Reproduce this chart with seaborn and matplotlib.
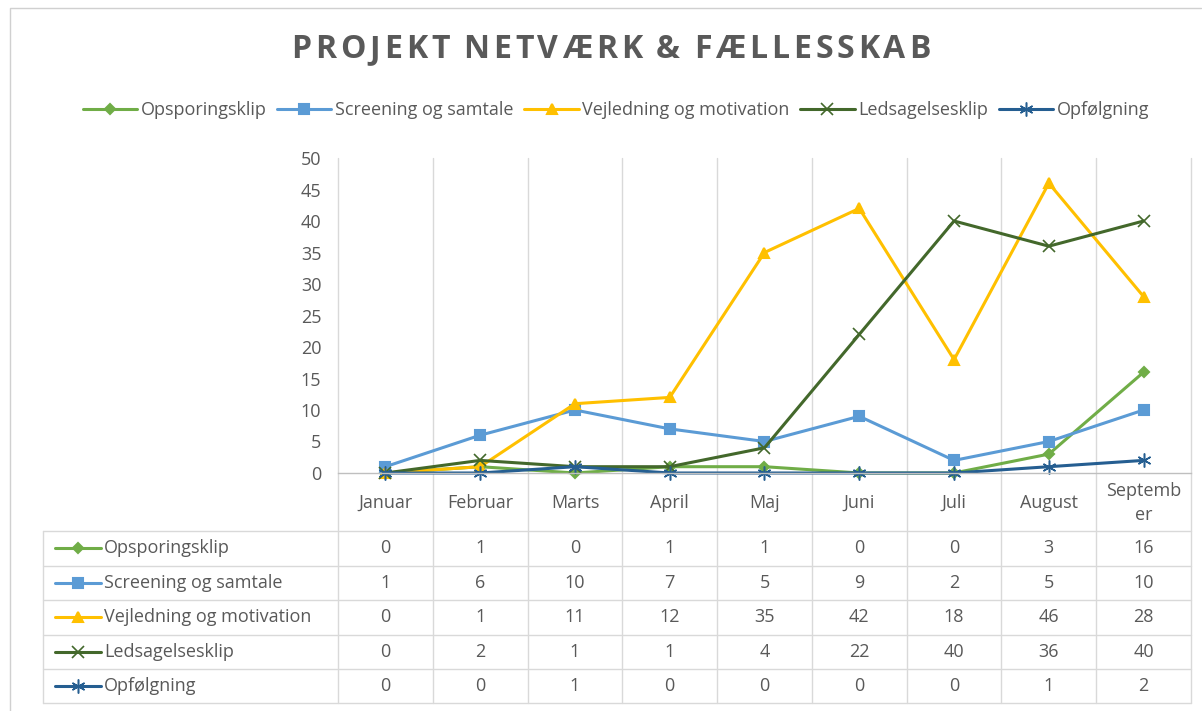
import numpy as np
import pandas as pd
import seaborn as sns
import matplotlib.pyplot as plt
from matplotlib.lines import Line2D
from matplotlib.font_manager import FontProperties

sns.set_theme(style="white")
plt.rcParams['font.family'] = ['Open Sans', 'DejaVu Sans']

months = ["Januar", "Februar", "Marts", "April", "Maj", "Juni", "Juli", "August", "September"]
month_labels = ["Januar", "Februar", "Marts", "April", "Maj", "Juni", "Juli", "August", "Septemb\ner"]
series = ["Opsporingsklip", "Screening og samtale", "Vejledning og motivation", "Ledsagelsesklip", "Opfølgning"]
opsporing = [0, 1, 0, 1, 1, 0, 0, 3, 16]
screening = [1, 6, 10, 7, 5, 9, 2, 5, 10]
vejledning = [0, 1, 11, 12, 35, 42, 18, 46, 28]
ledsagelse = [0, 2, 1, 1, 4, 22, 40, 36, 40]
opfolgning = [0, 0, 1, 0, 0, 0, 0, 1, 2]
values = [opsporing, screening, vejledning, ledsagelse, opfolgning]
title = "PROJEKT NETVÆRK & FÆLLESSKAB"

colors = ["#70AD47", "#5B9BD5", "#FFC000", "#43682B", "#255E91"]
markers = ["D", "s", "^", "x", (6, 2, 0)]
msizes = [5, 6.5, 7, 8, 10]
mews = [1.5, 1.5, 1.5, 1.2, 1.1]
txt = "#595959"
grid = "#D9D9D9"
fs = 13

W, H = 1202, 711
fig = plt.figure(figsize=(W / 100, H / 100), dpi=100)

# overlay in pixel coordinates for frame / data table
bg = fig.add_axes([0, 0, 1, 1], zorder=0)
bg.set_xlim(0, W)
bg.set_ylim(H, 0)
bg.axis("off")

x0, x1 = 338, 1191
ytop, yaxis = 158, 473
cw = (x1 - x0) / len(months)
row_edges = [531, 565.5, 600, 634.5, 669, 703]
left_tab = 43

# outer chart frame
bg.plot([10, 10, 1201], [H, 8, 8], color="#D0D0D0", lw=1)

# vertical grid + table lines
for i in range(len(months) + 1):
    xe = x0 + i * cw
    bg.plot([xe, xe], [ytop, row_edges[-1]], color=grid, lw=1)
for ye in row_edges:
    bg.plot([left_tab, x1], [ye, ye], color=grid, lw=1)
bg.plot([left_tab, left_tab], [row_edges[0], row_edges[-1]], color=grid, lw=1)

# header month labels
for i, m in enumerate(month_labels):
    bg.text(x0 + (i + 0.5) * cw, 503, m, ha="center", va="center",
            fontsize=fs, color=txt, linespacing=1.45)

# table rows
for r, (name, vals) in enumerate(zip(series, values)):
    yc = (row_edges[r] + row_edges[r + 1]) / 2
    bg.plot([55, 101], [yc, yc], color=colors[r], lw=2.2)
    bg.plot([78], [yc], marker=markers[r], color=colors[r], ms=msizes[r], mew=mews[r], ls="none")
    bg.text(104, yc, name, ha="left", va="center", fontsize=fs, color=txt)
    for i, v in enumerate(vals):
        bg.text(x0 + (i + 0.5) * cw, yc, str(v), ha="center", va="center", fontsize=fs, color=txt)

# main chart
ax = fig.add_axes([x0 / W, 1 - yaxis / H, (x1 - x0) / W, (yaxis - ytop) / H], zorder=2)
ax.patch.set_alpha(0)
for r, (name, vals) in enumerate(zip(series, values)):
    sns.lineplot(x=np.arange(len(months)), y=vals, ax=ax, color=colors[r], lw=2.2,
                 marker=markers[r], markersize=msizes[r], markeredgewidth=mews[r],
                 markeredgecolor=colors[r], sort=False, clip_on=False)
ax.set_xlim(-0.5, len(months) - 0.5)
ax.set_ylim(0, 50)
ax.set_yticks(range(0, 51, 5))
ax.set_xticks([])
ax.tick_params(axis="y", length=0, labelsize=fs, labelcolor=txt, pad=12)
for s in ["top", "right", "left"]:
    ax.spines[s].set_visible(False)
ax.spines["bottom"].set_color("#BFBFBF")
ax.spines["bottom"].set_linewidth(1)
ax.grid(False)

# title with letter spacing
renderer = fig.canvas.get_renderer()
tprop = FontProperties(family="Open Sans", weight="bold", size=23)
widths = [renderer.get_text_width_height_descent(c, tprop, ismath=False)[0] for c in title]
widths = [w * 0.75 if c == " " else w for c, w in zip(title, widths)]
tracking = 3.8
total = sum(widths) + tracking * (len(title) - 1)
xc = 611 - total / 2
for c, w in zip(title, widths):
    bg.text(xc, 50, c, ha="left", va="center", fontproperties=tprop, color=txt)
    xc += w + tracking

# legend
handles = [Line2D([0], [0], color=colors[r], lw=2.2, marker=markers[r], ms=msizes[r],
                  mew=mews[r]) for r in range(len(series))]
fig.legend(handles, series, loc="center", bbox_to_anchor=(616 / W, 1 - 110 / H), ncol=5,
           frameon=False, fontsize=fs, handlelength=3, handletextpad=0.2,
           columnspacing=0.6, labelcolor=txt)

fig.savefig("out.png", dpi=100, facecolor="white")
